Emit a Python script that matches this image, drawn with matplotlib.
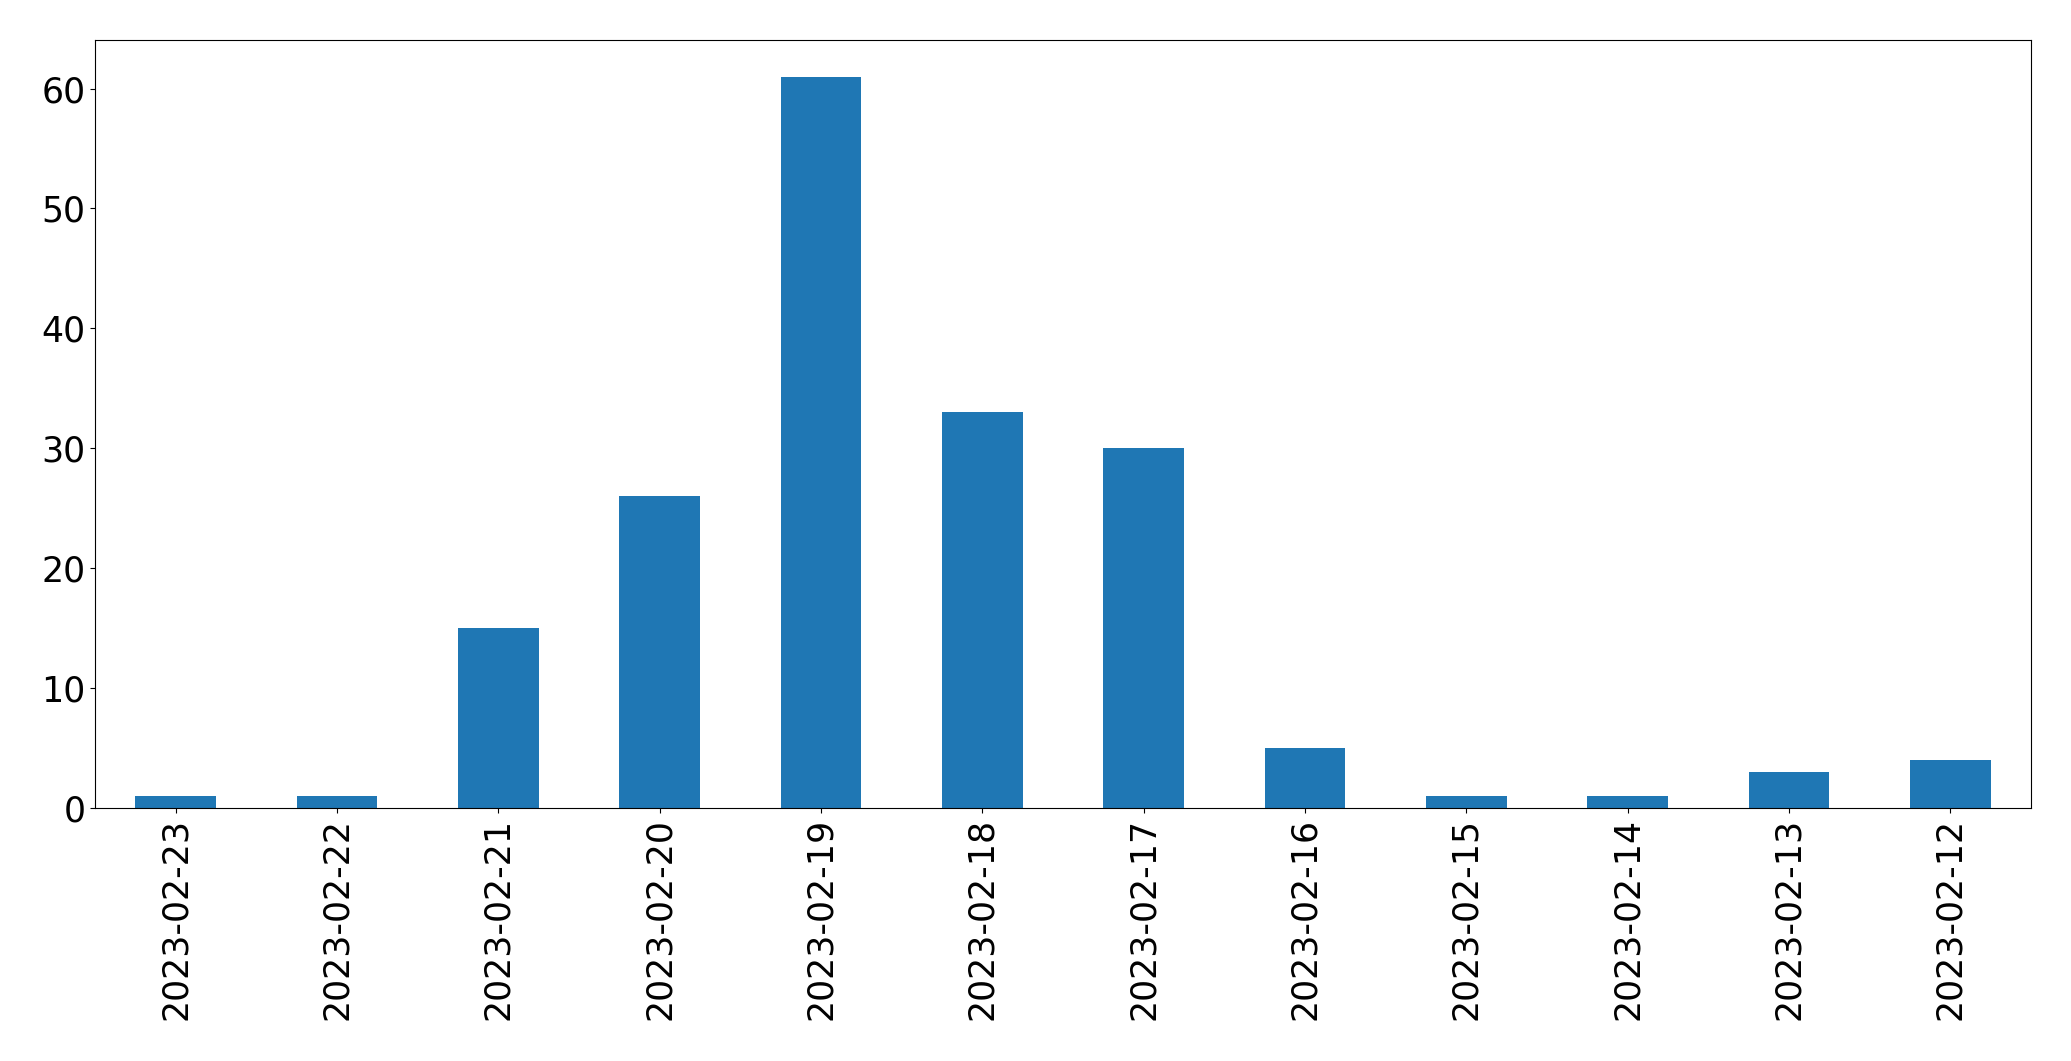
import matplotlib
matplotlib.use("Agg")
import matplotlib.pyplot as plt
import pandas as pd

dates = [
    "2023-02-23", "2023-02-22", "2023-02-21", "2023-02-20",
    "2023-02-19", "2023-02-18", "2023-02-17", "2023-02-16",
    "2023-02-15", "2023-02-14", "2023-02-13", "2023-02-12",
]
counts = [1, 1, 15, 26, 61, 33, 30, 5, 1, 1, 3, 4]

series = pd.Series(counts, index=dates)

fig = plt.figure(figsize=(20.71, 10.61), dpi=100)
ax = fig.add_axes([0.0459, 0.2385, 0.9348, 0.7238])
series.plot.bar(ax=ax, color="#1f77b4", fontsize=25)
ax.tick_params(axis="x", labelrotation=90)

fig.savefig("out.png", dpi=100)
